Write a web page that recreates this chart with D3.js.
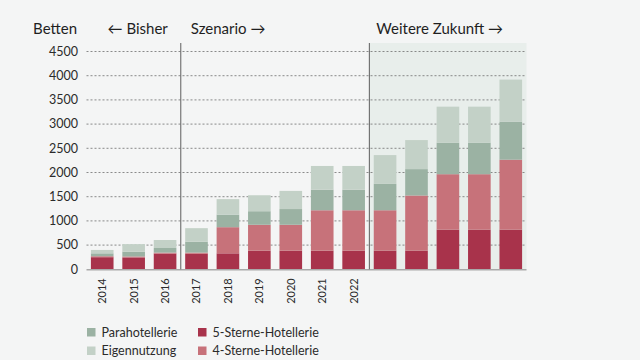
<!DOCTYPE html>
<html>
<head>
<meta charset="utf-8">
<script src="https://cdn.jsdelivr.net/npm/d3@7/dist/d3.min.js"></script>
<style>
  body { margin: 0; background: #f4f5f5; }
  svg { display: block; font-family: Lato, "Noto Sans", sans-serif; }
</style>
</head>
<body>
<svg id="chart"></svg>
<script>
// categories: 2014-2022 plus five unlabeled "Weitere Zukunft" columns
const categories = ["2014", "2015", "2016", "2017", "2018", "2019", "2020", "2021", "2022", "Z1", "Z2", "Z3", "Z4", "Z5"];
const xTickLabels = ["2014", "2015", "2016", "2017", "2018", "2019", "2020", "2021", "2022"];
const fuenfSterne = [250, 245, 325, 320, 330, 385, 385, 385, 385, 385, 385, 820, 820, 820];
const vierSterne = [20, 20, 20, 25, 540, 535, 535, 835, 835, 835, 1140, 1145, 1145, 1445];
const parahotellerie = [60, 100, 95, 225, 260, 280, 325, 425, 425, 545, 545, 650, 650, 785];
const eigennutzung = [70, 155, 165, 280, 320, 330, 375, 490, 490, 595, 600, 745, 745, 870];
const yTicks = [0, 500, 1000, 1500, 2000, 2500, 3000, 3500, 4000, 4500];
const seriesNames = ["5-Sterne-Hotellerie", "4-Sterne-Hotellerie", "Parahotellerie", "Eigennutzung"];
const seriesColors = ["#a8334b", "#c7727a", "#9bb2a3", "#c3d1c7"];
const sectionLabels = ["\u2190 Bisher", "Szenario \u2192", "Weitere Zukunft \u2192"];

const width = 640, height = 360;
const d3 = window.d3;

const svg = d3.select("#chart").attr("width", width).attr("height", height);

const x = d3.scaleBand()
  .domain(categories)
  .range([86.5, 526.5])
  .paddingInner(0.28)
  .paddingOuter(0.14);

const y = d3.scaleLinear().domain([0, 4500]).range([269.3, 51.5]);
const plotTop = 43;

// build stacked data
const rows = categories.map((c, i) => ({
  cat: c,
  "5-Sterne-Hotellerie": fuenfSterne[i],
  "4-Sterne-Hotellerie": vierSterne[i],
  "Parahotellerie": parahotellerie[i],
  "Eigennutzung": eigennutzung[i],
}));
const stacked = d3.stack().keys(seriesNames)(rows);

// boundaries between sections (between 2016/2017 and 2022/Z1)
const step = x.step();
const split1 = x("2017") - (step - x.bandwidth()) / 2;
const split2 = x("Z1") - (step - x.bandwidth()) / 2;

// shaded future area
svg.append("rect")
  .attr("x", split2)
  .attr("y", plotTop)
  .attr("width", x.range()[1] - split2)
  .attr("height", y(0) - plotTop)
  .attr("fill", "#e8eeeb");

// grid + y labels
const yAxis = svg.append("g").attr("class", "axis axis--y");
yAxis.selectAll("line")
  .data(yTicks.filter(d => d > 0))
  .enter()
  .append("line")
  .attr("x1", x.range()[0])
  .attr("x2", x.range()[1])
  .attr("y1", d => y(d))
  .attr("y2", d => y(d))
  .attr("stroke", "#6f6f6f")
  .attr("stroke-width", 0.8)
  .attr("stroke-dasharray", "2,2");
yAxis.selectAll("text")
  .data(yTicks)
  .enter()
  .append("text")
  .attr("x", 78)
  .attr("y", d => y(d))
  .attr("dy", "0.35em")
  .attr("text-anchor", "end")
  .attr("font-size", 12.5)
  .attr("fill", "#2b2b2b")
  .text(d => d);

// bars
svg.append("g")
  .selectAll("g")
  .data(stacked)
  .enter()
  .append("g")
  .attr("fill", (d, i) => seriesColors[i])
  .selectAll("rect")
  .data(d => d)
  .enter()
  .append("rect")
  .attr("x", d => x(d.data.cat))
  .attr("y", d => y(d[1]))
  .attr("width", x.bandwidth())
  .attr("height", d => y(d[0]) - y(d[1]));

// baseline
svg.append("line")
  .attr("x1", x.range()[0])
  .attr("x2", x.range()[1])
  .attr("y1", y(0) + 0.5)
  .attr("y2", y(0) + 0.5)
  .attr("stroke", "#a9a9a9")
  .attr("stroke-width", 1.5);

// section dividers
[split1, split2].forEach(sx => {
  svg.append("line")
    .attr("x1", sx).attr("x2", sx)
    .attr("y1", plotTop).attr("y2", y(0))
    .attr("stroke", "#5e5e5e")
    .attr("stroke-width", 1);
});

// x labels (rotated)
const xAxis = svg.append("g")
  .attr("class", "axis axis--x")
  .attr("transform", `translate(0, ${y(0)})`)
  .call(d3.axisBottom(x).tickValues(xTickLabels).tickSize(0).tickPadding(0))
  .call(g => g.select(".domain").remove())
  .call(g =>
    g.selectAll(".tick text")
      .attr("text-anchor", "end")
      .attr("transform", "rotate(-90)")
      .attr("x", -9)
      .attr("y", 0)
      .attr("dy", "0.35em")
      .attr("font-size", 11)
      .attr("font-family", "Lato, 'Noto Sans', sans-serif")
      .attr("fill", "#2b2b2b")
  );

// headers
const header = svg.append("g")
  .attr("font-size", 15)
  .attr("fill", "#1f1f1f");
header.append("text").attr("x", 77).attr("y", 34).attr("text-anchor", "end").text("Betten");
header.append("text").attr("x", split1 - 13).attr("y", 34).attr("text-anchor", "end").text(sectionLabels[0]);
header.append("text").attr("x", split1 + 10).attr("y", 34).text(sectionLabels[1]);
header.append("text").attr("x", split2 + 7).attr("y", 34).text(sectionLabels[2]);

// legend
const legendItems = [
  { name: "Parahotellerie", color: seriesColors[2], col: 0, row: 0 },
  { name: "Eigennutzung", color: seriesColors[3], col: 0, row: 1 },
  { name: "5-Sterne-Hotellerie", color: seriesColors[0], col: 1, row: 0 },
  { name: "4-Sterne-Hotellerie", color: seriesColors[1], col: 1, row: 1 },
];
const legend = svg.append("g").attr("class", "legend");
const lg = legend.selectAll("g")
  .data(legendItems)
  .enter()
  .append("g")
  .attr("transform", d => `translate(${87 + d.col * 111}, ${332.5 + d.row * 18.5})`);
lg.append("rect")
  .attr("x", 0).attr("y", -4.5)
  .attr("width", 8.5).attr("height", 8.5)
  .attr("fill", d => d.color);
lg.append("text")
  .attr("x", 14.5)
  .attr("y", 0)
  .attr("dy", "0.35em")
  .attr("font-size", 12.5)
  .attr("fill", "#2b2b2b")
  .text(d => d.name);
</script>
</body>
</html>
